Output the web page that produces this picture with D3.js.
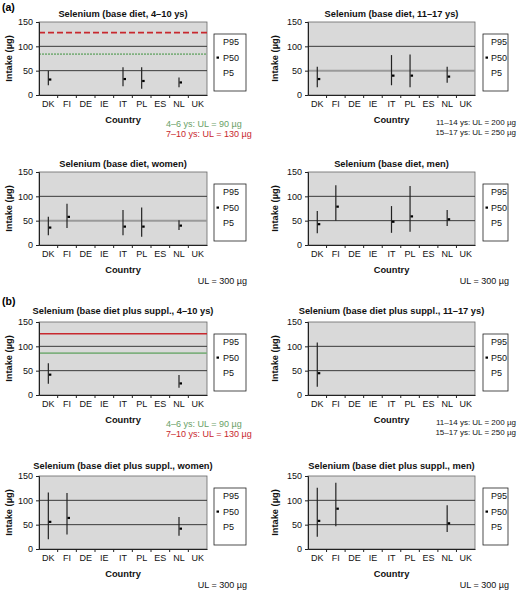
<!DOCTYPE html>
<html><head><meta charset="utf-8">
<script src="https://cdn.jsdelivr.net/npm/d3@7"></script>
<style>
html,body{margin:0;padding:0;background:#fff;}
svg text{font-family:"Liberation Sans",Arial,sans-serif;}
</style></head>
<body>
<svg id="c" width="519" height="593"></svg>
<script>
// ---------- data ----------
const countries = ["DK","FI","DE","IE","IT","PL","ES","NL","UK"];
const yTicks = [0, 50, 100, 150];
const legendLabels = ["P95", "P50", "P5"];

const titles = [
  "Selenium (base diet, 4\u201310 ys)",
  "Selenium (base diet, 11\u201317 ys)",
  "Selenium (base diet, women)",
  "Selenium (base diet, men)",
  "Selenium (base diet plus suppl., 4\u201310 ys)",
  "Selenium (base diet plus suppl., 11\u201317 ys)",
  "Selenium (base diet plus suppl., women)",
  "Selenium (base diet plus suppl., men)"
];

// P5 / P50 / P95 per country (null = no data)
const baseChildP5   = [20, null, null, null, 18, 13, null, 16, null];
const baseChildP50  = [32, null, null, null, 33, 29, null, 26, null];
const baseChildP95  = [50, null, null, null, 57, 57, null, 36, null];

const baseTeenP5    = [16, null, null, null, 20, 16, null, 25, null];
const baseTeenP50   = [33, null, null, null, 40, 40, null, 38, null];
const baseTeenP95   = [58, null, null, null, 82, 83, null, 58, null];

const baseWomenP5   = [20, 35, null, null, 20, 17, null, 31, null];
const baseWomenP50  = [36, 58, null, null, 38, 38, null, 40, null];
const baseWomenP95  = [58, 85, null, null, 72, 77, null, 51, null];

const baseMenP5     = [24, 50, null, null, 25, 27, null, 39, null];
const baseMenP50    = [43, 79, null, null, 48, 59, null, 53, null];
const baseMenP95    = [70, 123, null, null, 80, 121, null, 72, null];

const suppChildP5   = [23, null, null, null, null, null, null, 15, null];
const suppChildP50  = [42, null, null, null, null, null, null, 24, null];
const suppChildP95  = [65, null, null, null, null, null, null, 41, null];

const suppTeenP5    = [17, null, null, null, null, null, null, null, null];
const suppTeenP50   = [45, null, null, null, null, null, null, null, null];
const suppTeenP95   = [108, null, null, null, null, null, null, null, null];

const suppWomenP5   = [20, 30, null, null, null, null, null, 27, null];
const suppWomenP50  = [56, 64, null, null, null, null, null, 42, null];
const suppWomenP95  = [116, 115, null, null, null, null, null, 66, null];

const suppMenP5     = [25, 47, null, null, null, null, null, 35, null];
const suppMenP50    = [58, 83, null, null, null, null, null, 53, null];
const suppMenP95    = [126, 136, null, null, null, null, null, 90, null];

// drawn UL reference lines (children 4-10 ys): [7-10 ys line, 4-6 ys line]
const ulLinesBase = [128, 84];
const ulLinesSupp = [126, 86];

const childNotes = ["4\u20136 ys: UL = 90 \u00b5g", "7\u201310 ys: UL = 130 \u00b5g"];
const teenNotes  = ["11\u201314 ys: UL = 200 \u00b5g", "15\u201317 ys: UL = 250 \u00b5g"];
const adultNote  = "UL = 300 \u00b5g";

// ---------- layout ----------
const cols = [
  {x0: 39,  x1: 207, lx0: 214, lx1: 246, ylab: 9},
  {x0: 308, x1: 475, lx0: 483, lx1: 508, ylab: 275}
];
const rows = [
  {top: 22,  titleDy: -5},
  {top: 172, titleDy: -5},
  {top: 322, titleDy: -8},
  {top: 476, titleDy: -7}
];
const plotH = 73;

const panels = [
  {t: 0, p5: baseChildP5, p50: baseChildP50, p95: baseChildP95, c: 0, r: 0, kind: "child", ul: ulLinesBase, ulStyle: "dash"},
  {t: 1, p5: baseTeenP5,  p50: baseTeenP50,  p95: baseTeenP95,  c: 1, r: 0, kind: "teen", grey50: true},
  {t: 2, p5: baseWomenP5, p50: baseWomenP50, p95: baseWomenP95, c: 0, r: 1, kind: "adult", grey50: true},
  {t: 3, p5: baseMenP5,   p50: baseMenP50,   p95: baseMenP95,   c: 1, r: 1, kind: "adult"},
  {t: 4, p5: suppChildP5, p50: suppChildP50, p95: suppChildP95, c: 0, r: 2, kind: "child", ul: ulLinesSupp, ulStyle: "solid"},
  {t: 5, p5: suppTeenP5,  p50: suppTeenP50,  p95: suppTeenP95,  c: 1, r: 2, kind: "teen"},
  {t: 6, p5: suppWomenP5, p50: suppWomenP50, p95: suppWomenP95, c: 0, r: 3, kind: "adult"},
  {t: 7, p5: suppMenP5,   p50: suppMenP50,   p95: suppMenP95,   c: 1, r: 3, kind: "adult"}
];

const svg = d3.select("#c");
const RED = "#c8282e", GREEN = "#7fb07f";

svg.append("text").attr("x", 2).attr("y", 11).attr("font-size", 10.5).attr("font-weight", "bold").text("(a)");
svg.append("text").attr("x", 2).attr("y", 305).attr("font-size", 10.5).attr("font-weight", "bold").text("(b)");

panels.forEach(p => {
  const col = cols[p.c], row = rows[p.r];
  const top = row.top, bottom = top + plotH;
  const x = d3.scaleBand().domain(countries).range([col.x0, col.x1]).paddingInner(0).paddingOuter(0);
  const y = d3.scaleLinear().domain([0, 150]).range([bottom, top]);
  const g = svg.append("g");

  // plot background
  g.append("rect").attr("x", col.x0).attr("y", top).attr("width", col.x1 - col.x0).attr("height", plotH)
    .attr("fill", "#d9d9d9").attr("stroke", "#666").attr("stroke-width", 0.8);

  // gridlines
  g.selectAll("line.grid").data(yTicks.filter(v => v > 0 && v < 150)).join("line")
    .attr("x1", col.x0).attr("x2", col.x1)
    .attr("y1", d => y(d)).attr("y2", d => y(d))
    .attr("stroke", d => (p.grey50 && d === 50) ? "#9a9a9a" : "#3a3a3a")
    .attr("stroke-width", d => (p.grey50 && d === 50) ? 2 : 1);

  // UL reference lines
  if (p.ul) {
    const dashRed = p.ulStyle === "dash" ? "6,3" : null;
    const dashGreen = p.ulStyle === "dash" ? "2,1" : null;
    g.append("line").attr("x1", col.x0).attr("x2", col.x1).attr("y1", y(p.ul[0])).attr("y2", y(p.ul[0]))
      .attr("stroke", RED).attr("stroke-width", p.ulStyle === "dash" ? 1.8 : 1.5).attr("stroke-dasharray", dashRed);
    g.append("line").attr("x1", col.x0).attr("x2", col.x1).attr("y1", y(p.ul[1])).attr("y2", y(p.ul[1]))
      .attr("stroke", GREEN).attr("stroke-width", 1.8).attr("stroke-dasharray", dashGreen);
  }

  // y axis
  const ya = g.append("g").attr("transform", `translate(${col.x0},0)`)
    .call(d3.axisLeft(y).tickValues(yTicks).tickSize(3).tickPadding(3));
  ya.select(".domain").attr("stroke", "#222");
  ya.selectAll(".tick line").attr("stroke", "#222");
  ya.selectAll("text").attr("font-size", 9).attr("fill", "#111").attr("font-family", "Liberation Sans, Arial, sans-serif");

  // x axis: labels at band centres, ticks at band boundaries
  const xa = g.append("g").attr("transform", `translate(0,${bottom})`)
    .call(d3.axisBottom(x).tickSize(0).tickPadding(6));
  xa.select(".domain").attr("stroke", "#222");
  xa.selectAll("text").attr("font-size", 9).attr("fill", "#111").attr("font-family", "Liberation Sans, Arial, sans-serif");
  g.selectAll("line.xt").data(countries.slice(1)).join("line")
    .attr("x1", d => x(d)).attr("x2", d => x(d))
    .attr("y1", bottom).attr("y2", bottom + 3).attr("stroke", "#222");

  // title
  g.append("text").attr("x", (col.x0 + col.x1) / 2).attr("y", top + row.titleDy)
    .attr("text-anchor", "middle").attr("font-size", 9.3).attr("font-weight", "bold").attr("fill", "#111")
    .text(titles[p.t]);

  // axis titles
  g.append("text").attr("x", (col.x0 + col.x1) / 2).attr("y", bottom + 28)
    .attr("text-anchor", "middle").attr("font-size", 9.3).attr("font-weight", "bold").attr("fill", "#111").text("Country");
  g.append("text").attr("transform", `translate(${col.ylab + 3},${(top + bottom) / 2}) rotate(-90)`)
    .attr("text-anchor", "middle").attr("font-size", 9.3).attr("font-weight", "bold").attr("fill", "#111").text("Intake (\u00b5g)");

  // range bars
  const idx = countries.map((c, i) => i).filter(i => p.p50[i] != null);
  const bw = x.bandwidth();
  g.selectAll("line.rng").data(idx).join("line")
    .attr("x1", i => x(countries[i]) + bw / 2).attr("x2", i => x(countries[i]) + bw / 2)
    .attr("y1", i => y(p.p5[i])).attr("y2", i => y(p.p95[i]))
    .attr("stroke", "#222").attr("stroke-width", 1.2);
  g.selectAll("rect.med").data(idx).join("rect")
    .attr("x", i => x(countries[i]) + bw / 2 + 0.5).attr("y", i => y(p.p50[i]) - 1)
    .attr("width", 2.5).attr("height", 2.2).attr("fill", "#000");

  // legend box
  const ly0 = top + 12, ly1 = top + 69;
  g.append("rect").attr("x", col.lx0).attr("y", ly0).attr("width", col.lx1 - col.lx0).attr("height", ly1 - ly0)
    .attr("fill", "#fff").attr("stroke", "#222").attr("stroke-width", 0.8);
  legendLabels.forEach((lab, k) => {
    const ty = top + 20 + k * 15.5;
    g.append("text").attr("x", col.lx0 + (p.c === 0 ? 9 : 8)).attr("y", ty + 3.3)
      .attr("font-size", 9).attr("fill", "#111").text(lab);
    if (k === 1) {
      g.append("rect").attr("x", col.lx0 + 2.5).attr("y", ty - 1).attr("width", 2.5).attr("height", 2.2).attr("fill", "#000");
    }
  });

  // notes
  if (p.kind === "child") {
    g.append("text").attr("x", 166).attr("y", bottom + 31.5).attr("font-size", 9).attr("fill", "#6a9f68").text(childNotes[0]);
    g.append("text").attr("x", 166).attr("y", bottom + 41.5).attr("font-size", 9).attr("fill", RED).text(childNotes[1]);
  } else if (p.kind === "teen") {
    g.append("text").attr("x", 516).attr("y", bottom + 30).attr("text-anchor", "end").attr("font-size", 8).attr("fill", "#111").text(teenNotes[0]);
    g.append("text").attr("x", 516).attr("y", bottom + 40).attr("text-anchor", "end").attr("font-size", 8).attr("fill", "#111").text(teenNotes[1]);
  } else {
    g.append("text").attr("x", col.lx1 + 1).attr("y", bottom + 39).attr("text-anchor", "end").attr("font-size", 9).attr("fill", "#111").text(adultNote);
  }
});
</script>
</body></html>
